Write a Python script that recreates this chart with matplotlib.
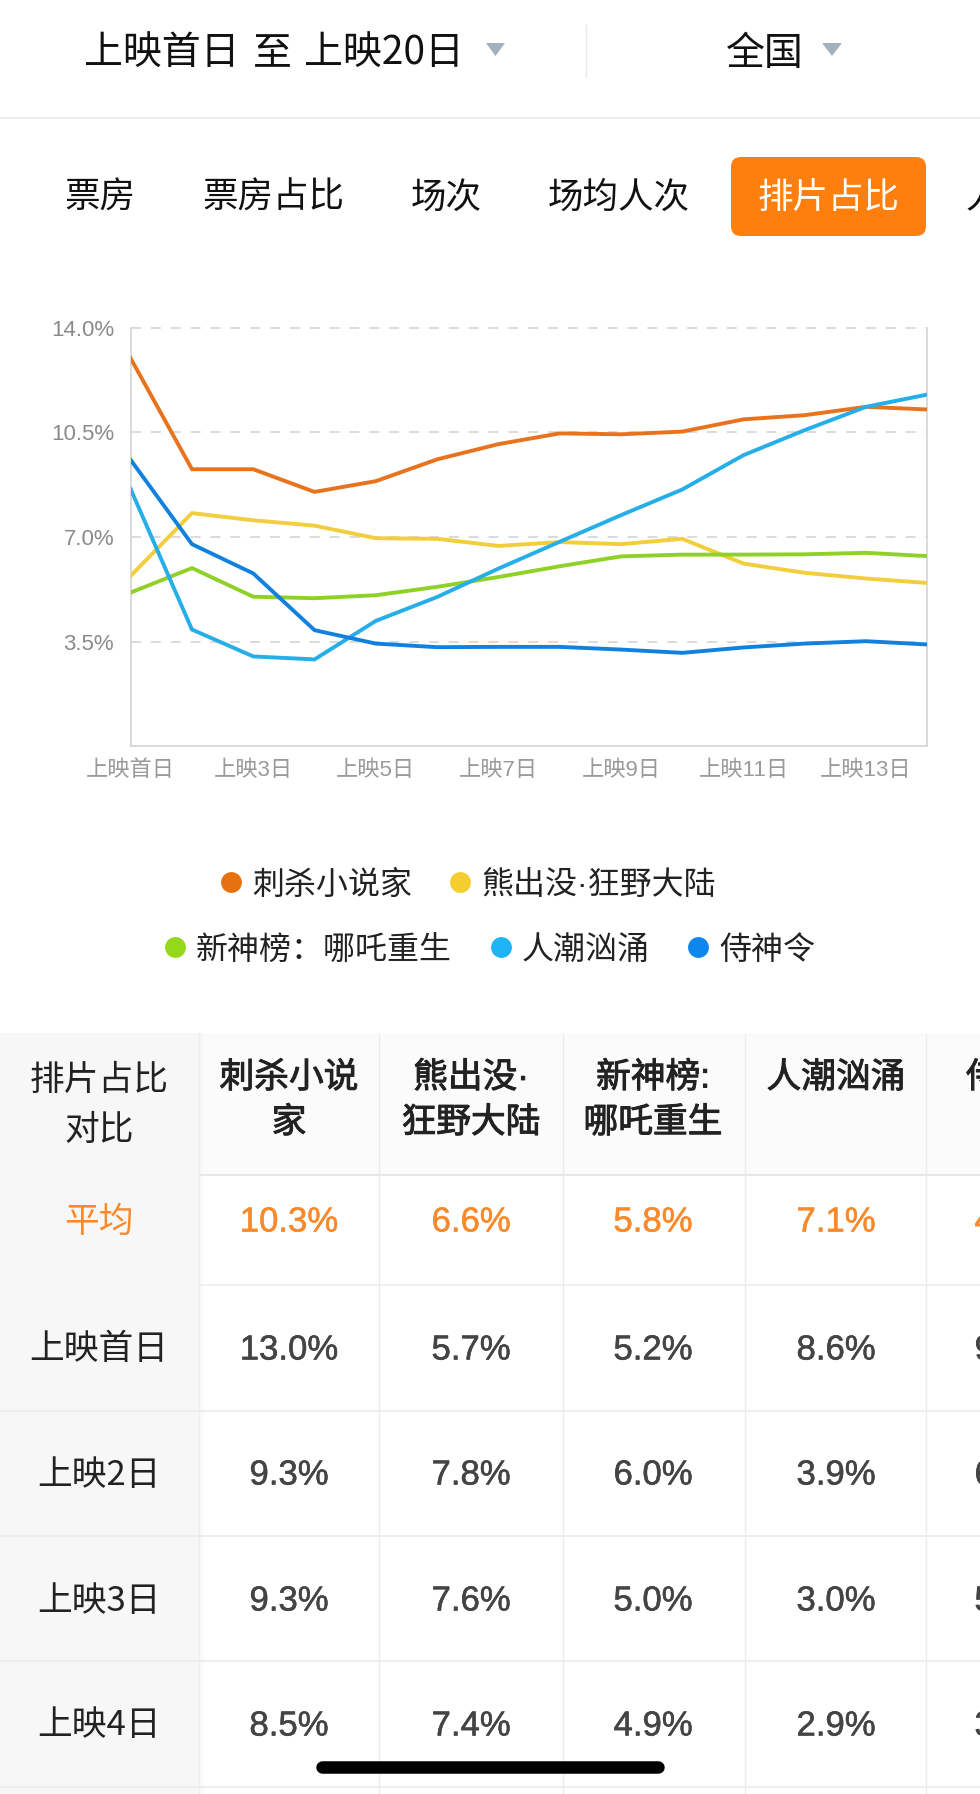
"""
Screen share chart: daily screening share of five films, with the comparison table below.
"""

import matplotlib
matplotlib.use("Agg")
import matplotlib.pyplot as plt
import matplotlib.patheffects as pe
from matplotlib.patches import FancyBboxPatch, Polygon, Rectangle
import numpy as np

CJK = ["Noto Sans CJK SC", "DejaVu Sans"]
NUM = ["Liberation Sans", "Noto Sans CJK SC", "DejaVu Sans"]
plt.rcParams["font.family"] = CJK

# ------------------------------------------------------------
# Data
# ------------------------------------------------------------
TABS = ["票房", "票房占比", "场次", "场均人次", "排片占比", "人次占比"]

DAY_TICKS = ["上映首日", "上映3日", "上映5日", "上映7日", "上映9日", "上映11日", "上映13日"]
Y_TICKS = [3.5, 7.0, 10.5, 14.0]

days = list(range(1, 15))
film_names = ["刺杀小说家", "熊出没·狂野大陆", "新神榜：哪吒重生", "人潮汹涌", "侍神令"]
film_headers = [["刺杀小说", "家"], ["熊出没·", "狂野大陆"], ["新神榜:", "哪吒重生"], ["人潮汹涌"], ["侍神令"]]
film_colors = ["#E9731C", "#F2CD3C", "#8FD126", "#25AEE8", "#1181DF"]
dot_colors = ["#E8710F", "#F3CE2E", "#95D71A", "#1FB4F5", "#0E86EE"]

cike = [12.98, 9.27, 9.27, 8.51, 8.87, 9.60, 10.11, 10.47, 10.44, 10.53, 10.94, 11.08, 11.36, 11.27]
xiong = [5.70, 7.80, 7.56, 7.38, 6.96, 6.94, 6.70, 6.83, 6.76, 6.94, 6.11, 5.80, 5.61, 5.46]
nezha = [5.14, 5.96, 5.00, 4.95, 5.05, 5.33, 5.66, 6.02, 6.35, 6.41, 6.41, 6.42, 6.47, 6.36]
renchao = [8.60, 3.90, 3.00, 2.90, 4.19, 4.99, 5.94, 6.84, 7.73, 8.59, 9.74, 10.58, 11.36, 11.77]
shishen = [9.58, 6.76, 5.78, 3.88, 3.43, 3.31, 3.32, 3.32, 3.23, 3.12, 3.30, 3.43, 3.51, 3.40]
series = [cike, xiong, nezha, renchao, shishen]

row_labels = ["上映首日", "上映2日", "上映3日", "上映4日"]
avg_row = ["10.3%", "6.6%", "5.8%", "7.1%", "4.2%"]
table_rows = [
    ["13.0%", "5.7%", "5.2%", "8.6%", "9.6%"],
    ["9.3%", "7.8%", "6.0%", "3.9%", "6.8%"],
    ["9.3%", "7.6%", "5.0%", "3.0%", "5.8%"],
    ["8.5%", "7.4%", "4.9%", "2.9%", "3.9%"],
]

W, H = 980, 1794
fig = plt.figure(figsize=(W / 100, H / 100), dpi=100, facecolor="white")

# page canvas in pixel coordinates, y going down
page = fig.add_axes([0, 0, 1, 1])
page.set_xlim(0, W)
page.set_ylim(H, 0)
page.axis("off")


# ------------------------------------------------------------
# Header and tabs
# ------------------------------------------------------------
def triangle(x0, x1, y0, y1):
    page.add_patch(Polygon([(x0, y0), (x1, y0), ((x0 + x1) / 2, y1)], closed=True, color="#A3B1BF", lw=0))


page.text(84, 54, "上映首日", fontsize=28, va="center", ha="left", color="#111111")
page.text(253, 54, "至", fontsize=28, va="center", ha="left", color="#111111")
page.text(304, 54, "上映20日", fontsize=28, va="center", ha="left", color="#111111")
triangle(486, 505, 43, 56)
page.plot([586, 586], [25, 77], color="#E8E8E8", lw=1)
page.text(765, 54, "全国", fontsize=28, va="center", ha="center", color="#111111")
triangle(822, 842, 43, 56)
page.plot([0, W], [118, 118], color="#EAEAEA", lw=1.2)

page.add_patch(FancyBboxPatch((731, 157), 195, 79, boxstyle="round,pad=0,rounding_size=10", lw=0,
                              fc="#FF7F0E"))

tab_x = [100, 273, 446, 619, 828, 1036]
for i, tab in enumerate(TABS):
    page.text(tab_x[i], 198, tab, fontsize=25.6, va="center", ha="center",
              color="white" if i == 4 else "#111111")

# ------------------------------------------------------------
# Line chart
# ------------------------------------------------------------
ax = fig.add_axes([130.7 / W, 1 - 746 / H, (927.3 - 130.7) / W, (746 - 328) / H])
ax.set_xlim(1, 14)
ax.set_ylim(0, 14)

for tick in Y_TICKS:
    ax.axhline(tick, color="#D8D8D8", lw=1.3, dashes=(5.5, 5.5), zorder=1, clip_on=False)

for vals, color in zip(series, film_colors):
    ax.plot(days, vals, color=color, lw=2.8, zorder=3, solid_joinstyle="miter")

ax.spines["top"].set_visible(False)
for side in ["left", "right", "bottom"]:
    ax.spines[side].set_color("#D4D4D4")
    ax.spines[side].set_linewidth(1.2)

ax.set_yticks(Y_TICKS)
ax.set_yticklabels([f"{t:.1f}%" for t in Y_TICKS], family=NUM, fontsize=16, color="#8A8A8A")
ax.set_xticks(days[::2])
ax.set_xticklabels(DAY_TICKS, family=NUM, fontsize=16, color="#9A9A9A")
ax.tick_params(axis="both", length=0)
ax.tick_params(axis="y", pad=12)
ax.tick_params(axis="x", pad=10)

# ------------------------------------------------------------
# Legend
# ------------------------------------------------------------
legend_pos = [(231, 882), (460, 882), (175, 947), (501, 947), (698, 947)]
for name, color, (lx, ly) in zip(film_names, dot_colors, legend_pos):
    page.plot([lx], [ly], "o", color=color, ms=15, mew=0)
    page.text(lx + 21, ly + 3.5, name, family=NUM, fontsize=23, va="center", ha="left", color="#222222")

# ------------------------------------------------------------
# Comparison table
# ------------------------------------------------------------
TABLE_TOP = 1033
HEADER_BOTTOM = 1175
row_lines = [1285, 1411, 1536, 1661, 1787]
col_lines = [379, 562.5, 745, 926]
col_centers = [289, 471, 653, 836, 1018]
value_centers = [289, 471, 653, 836, 1014]
row_centers = [1222, 1350, 1475, 1601, 1726]

page.add_patch(Rectangle((199, TABLE_TOP), W - 199, HEADER_BOTTOM - TABLE_TOP, fc="#FBFBFB", lw=0))
page.add_patch(Rectangle((0, TABLE_TOP), 199, H - TABLE_TOP, fc="#F7F7F7", lw=0))

# soft shadow next to the frozen first column
shade = np.linspace(0.10, 0, 8).reshape(1, -1)
page.imshow(shade, extent=(199, 207, H, TABLE_TOP), cmap="Greys", vmin=0, vmax=1, alpha=0.5,
            aspect="auto", zorder=1)
page.set_xlim(0, W)
page.set_ylim(H, 0)

page.hlines(HEADER_BOTTOM, 199, W, color="#E4E4E4", lw=1.2, zorder=2)
page.hlines(row_lines[0], 199, W, color="#EFEFEF", lw=1.2, zorder=2)
page.hlines(row_lines[1:], 0, W, color="#EAEAEA", lw=1.2, zorder=2)
page.vlines(col_lines, TABLE_TOP, H, color="#ECECEC", lw=1, zorder=2)
page.plot([199, 199], [TABLE_TOP, H], color="#EDEDED", lw=1, zorder=2)

page.text(99, 1080, "排片占比", fontsize=25, va="center", ha="center", color="#222222", zorder=4)
page.text(99, 1130, "对比", fontsize=25, va="center", ha="center", color="#222222", zorder=4)

# the header weight sits between regular and bold, so thicken regular a little
medium = [pe.withStroke(linewidth=0.7, foreground="#222222")]
header_y = [1078, 1123]
for header, cx in zip(film_headers, col_centers):
    for line, hy in zip(header, header_y):
        page.text(cx, hy, line, family=NUM, fontsize=25, va="center", ha="center",
                  color="#222222", zorder=4, path_effects=medium)

page.text(99, row_centers[0], "平均", fontsize=25, va="center", ha="center", color="#F98A2C", zorder=4)
for val, cx in zip(avg_row, value_centers):
    page.text(cx, row_centers[0], val, family=NUM, fontsize=25, va="center", ha="center",
              color="#F98A2C", zorder=4, path_effects=[pe.withStroke(linewidth=0.4, foreground="#F98A2C")])

for label, row, cy in zip(row_labels, table_rows, row_centers[1:]):
    page.text(99, cy, label, fontsize=25, va="center", ha="center", color="#222222", zorder=4)
    for val, cx in zip(row, value_centers):
        page.text(cx, cy, val, family=NUM, fontsize=25, va="center", ha="center",
                  color="#444444", zorder=4, path_effects=[pe.withStroke(linewidth=0.4, foreground="#444444")])

# home indicator
page.plot([322, 658], [1767.2, 1767.2], color="black", lw=9, solid_capstyle="round", zorder=6)

fig.savefig("out.png", dpi=100)
